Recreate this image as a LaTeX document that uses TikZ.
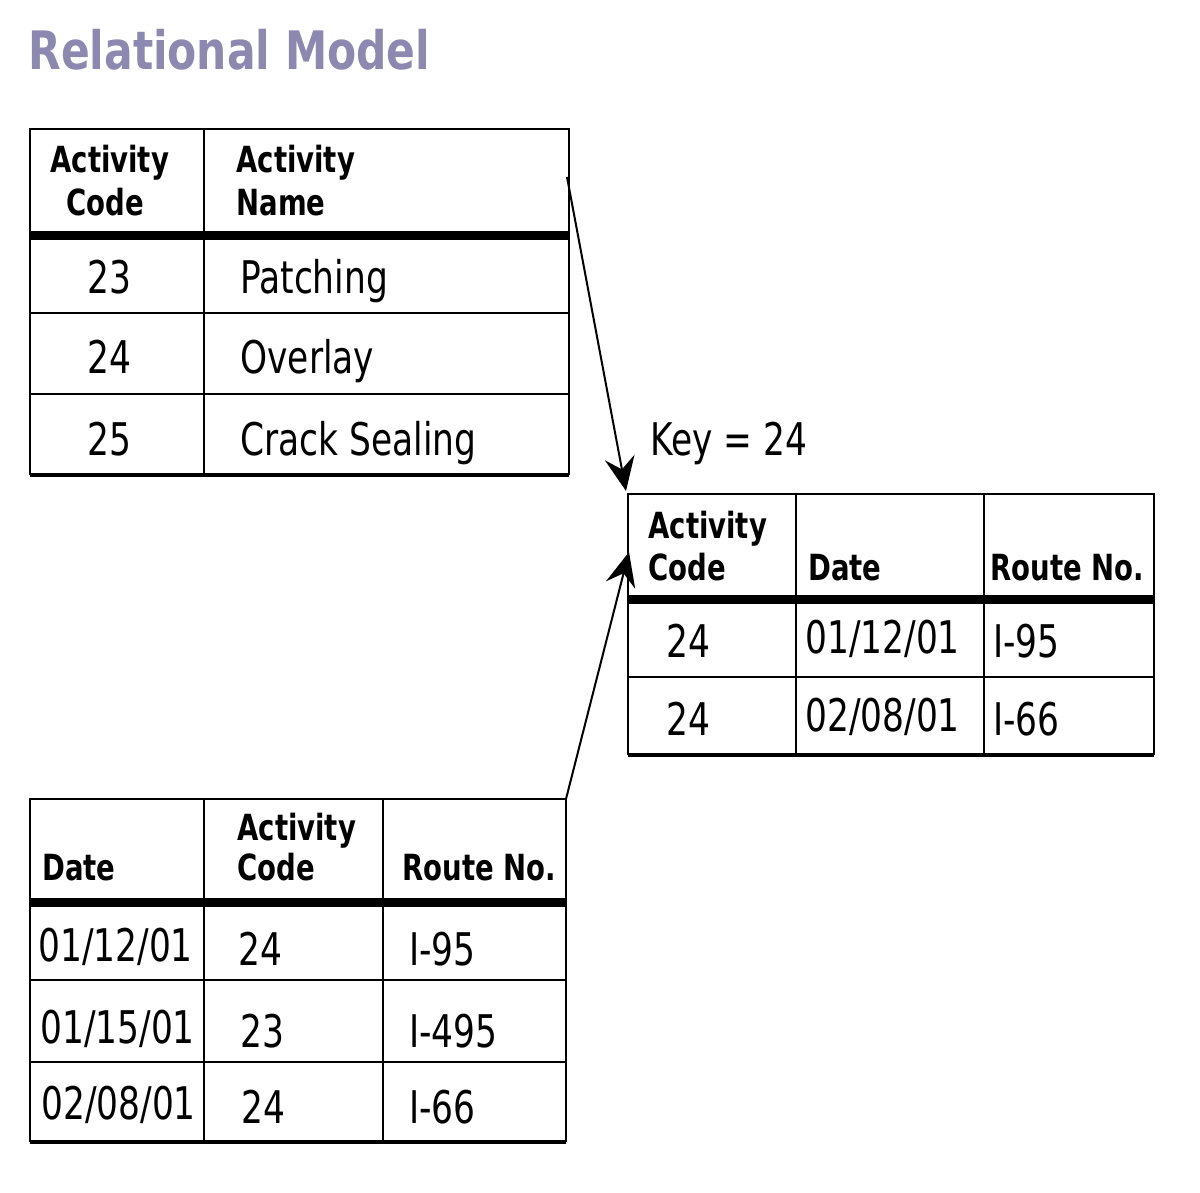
\documentclass[tikz,border=0pt]{standalone}
\usepackage{fontspec}
\setmainfont{DejaVu Sans Condensed}[FakeStretch=0.85]
\newfontfamily\titlefont{DejaVu Sans Condensed}[FakeStretch=0.89]
\usetikzlibrary{arrows.meta}
\definecolor{titlecol}{RGB}{141,136,176}

\begin{document}
\begin{tikzpicture}[x=0.5pt,y=-0.5pt]
\useasboundingbox (0,0) rectangle (1200,1193);
\tikzset{
    grid line/.style={line width=1pt},
    key rule/.style={line width=4.5pt},
    foot rule/.style={line width=1.6pt},
    head/.style={anchor=base west,inner sep=0pt,font=\fontsize{18}{20}\selectfont\bfseries},
    cell/.style={anchor=base west,inner sep=0pt,font=\fontsize{22.5}{25}\selectfont},
    link/.style={line width=1pt,-{Stealth[length=17pt,width=15pt,inset=6pt]}}
}
\node (title) [anchor=base west,inner sep=0pt,text=titlecol,font=\titlefont\fontsize{26.5}{30}\selectfont\bfseries] at (28,70) {Relational Model};

% activity table
\draw[grid line] (30,475) -- (30,129) -- (569,129) -- (569,475);
\draw[grid line] (204,129) -- (204,475);
\draw[grid line] (30,313) -- (569,313);
\draw[grid line] (30,394) -- (569,394);
\draw[key rule] (30,235) -- (569,235);
\draw[foot rule] (30,475) -- (569,475);
\node (acthA) [head] at (50,173) {Activity};
\node (acthB) [head] at (66,215) {Code};
\node (acthC) [head] at (236,173) {Activity};
\node (acthD) [head] at (236,215) {Name};
\node (act1a) [cell] at (87,293) {23};
\node (act1b) [cell] at (240,293) {Patching};
\node (act2a) [cell] at (87,373) {24};
\node (act2b) [cell] at (240,373) {Overlay};
\node (act3a) [cell] at (87,455) {25};
\node (act3b) [cell] at (240,455) {Crack Sealing};

% result table
\draw[grid line] (628,755) -- (628,494) -- (1154,494) -- (1154,755);
\draw[grid line] (796,494) -- (796,755);
\draw[grid line] (984,494) -- (984,755);
\draw[grid line] (628,677) -- (1154,677);
\draw[key rule] (628,599) -- (1154,599);
\draw[foot rule] (628,755) -- (1154,755);
\node (key) [cell] at (650,455) {Key = 24};
\node (reshA) [head] at (648,538) {Activity};
\node (reshB) [head] at (648,580) {Code};
\node (reshC) [head] at (808,580) {Date};
\node (reshD) [head] at (990,580) {Route No.};
\node (res1a) [cell] at (666,657) {24};
\node (res1b) [cell] at (805,653) {01/12/01};
\node (res1c) [cell] at (993,657) {I-95};
\node (res2a) [cell] at (666,735) {24};
\node (res2b) [cell] at (805,731) {02/08/01};
\node (res2c) [cell] at (993,735) {I-66};

% work table
\draw[grid line] (30,1142) -- (30,799) -- (566,799) -- (566,1142);
\draw[grid line] (204,799) -- (204,1142);
\draw[grid line] (383,799) -- (383,1142);
\draw[grid line] (30,980) -- (566,980);
\draw[grid line] (30,1062) -- (566,1062);
\draw[key rule] (30,902) -- (566,902);
\draw[foot rule] (30,1142) -- (566,1142);
\node (wrkhA) [head] at (42,880) {Date};
\node (wrkhB) [head] at (237,840) {Activity};
\node (wrkhC) [head] at (237,880) {Code};
\node (wrkhD) [head] at (402,880) {Route No.};
\node (wrk1a) [cell] at (38,961) {01/12/01};
\node (wrk1b) [cell] at (238,965) {24};
\node (wrk1c) [cell] at (409,965) {I-95};
\node (wrk2a) [cell] at (40,1043) {01/15/01};
\node (wrk2b) [cell] at (240,1047) {23};
\node (wrk2c) [cell] at (409,1047) {I-495};
\node (wrk3a) [cell] at (41,1119) {02/08/01};
\node (wrk3b) [cell] at (241,1123) {24};
\node (wrk3c) [cell] at (409,1123) {I-66};

\coordinate (actout) at (567,177);
\coordinate (resin) at (626,491);
\coordinate (wrkout) at (566,799);
\coordinate (resside) at (629,552);
\draw[link] (actout) -- (resin);
\draw[link] (wrkout) -- (resside);
\end{tikzpicture}
\end{document}
